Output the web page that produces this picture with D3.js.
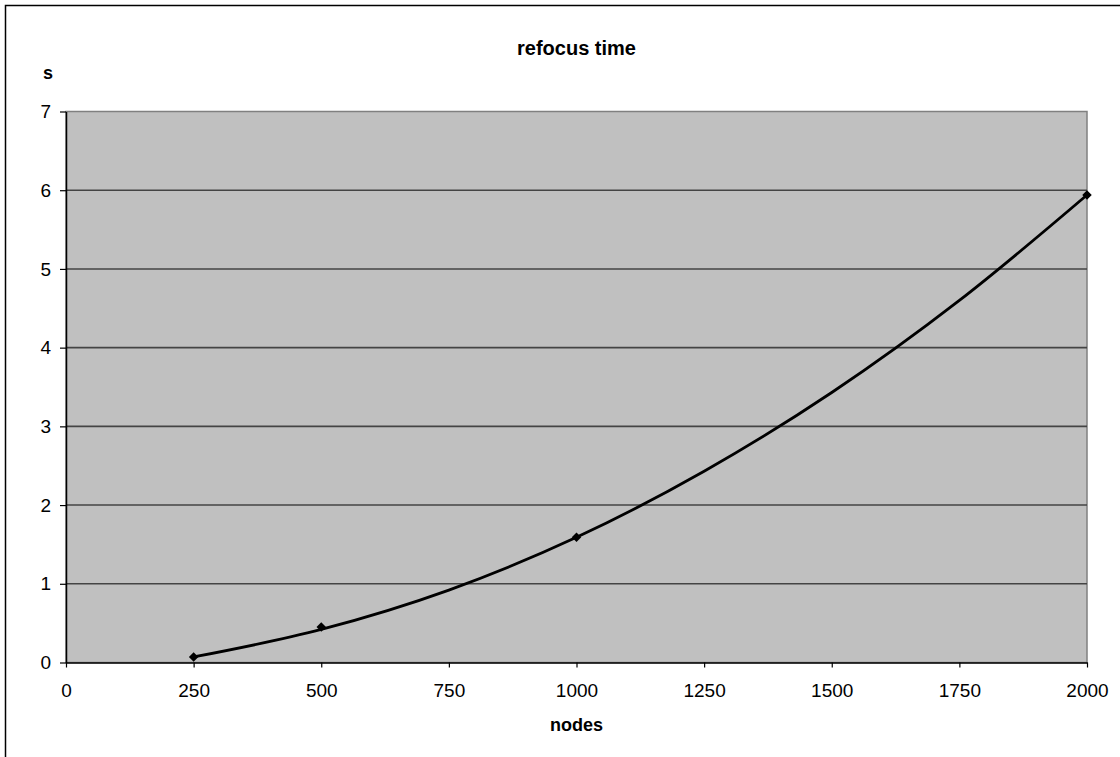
<!DOCTYPE html>
<html><head><meta charset="utf-8">
<script src="https://cdn.jsdelivr.net/npm/d3@7"></script>
<style>body{margin:0;background:#fff}svg{display:block}text{font-family:"Liberation Sans",Arial,sans-serif}</style>
</head><body><svg id="c" width="1120" height="757"></svg>
<script>
// measured data points (markers)
const nodes = [250, 500, 1000, 2000];
const seconds = [0.07, 0.45, 1.59, 5.94];
// trend line, values
const trendNodes = [250, 500, 750, 1000, 1250, 1500, 1750, 2000];
const trendSeconds = [0.07, 0.42, 0.92, 1.59, 2.43, 3.43, 4.60, 5.94];
const xTicks = [0, 250, 500, 750, 1000, 1250, 1500, 1750, 2000];
const yTicks = [0, 1, 2, 3, 4, 5, 6, 7];
const title = "refocus time", xTitle = "nodes", yTitle = "s";

const svg = d3.select("#c");
const L = 66, R = 1087, T = 111.5, B = 662.5;
const x = d3.scaleLinear().domain([0, 2000]).range([L, R]);
const y = d3.scaleLinear().domain([0, 7]).range([B, T]);

svg.append("rect").attr("x",5.5).attr("y",5.5).attr("width",1300).attr("height",1000)
  .attr("fill","#fff").attr("stroke","#000").attr("stroke-width",1.5);

svg.append("rect").attr("x",L).attr("y",T).attr("width",R-L).attr("height",B-T)
  .attr("fill","#c0c0c0").attr("stroke","#808080").attr("stroke-width",1.5);

svg.append("g").selectAll("line").data(yTicks.filter(d=>d>0&&d<7)).join("line")
  .attr("x1",L).attr("x2",R).attr("y1",d=>y(d)).attr("y2",d=>y(d))
  .attr("stroke","#444").attr("stroke-width",1.6);

const fmt = d3.format("d");
const xa = svg.append("g").attr("transform",`translate(0,${B})`)
  .call(d3.axisBottom(x).tickValues(xTicks).tickFormat(fmt).tickSize(5).tickPadding(16).tickSizeOuter(0));
const ya = svg.append("g").attr("transform",`translate(${L},0)`)
  .call(d3.axisLeft(y).tickValues(yTicks).tickFormat(fmt).tickSize(6).tickPadding(9).tickSizeOuter(0));
[xa, ya].forEach(a => {
  a.select(".domain").attr("stroke","#000").attr("stroke-width",1.5);
  a.selectAll(".tick line").attr("stroke","#000").attr("stroke-width",1.2);
  a.selectAll(".tick text").attr("font-size",19).attr("fill","#000").attr("font-family","Liberation Sans, Arial, sans-serif");
});

const trend = trendNodes.map((n,i)=>[n, trendSeconds[i]]);
svg.append("path").datum(trend)
  .attr("d", d3.line().x(d=>x(d[0])).y(d=>y(d[1])).curve(d3.curveMonotoneX))
  .attr("fill","none").attr("stroke","#000").attr("stroke-width",2.8);

const pts = nodes.map((n,i)=>[n, seconds[i]]);
svg.append("g").selectAll("path").data(pts).join("path")
  .attr("transform", d=>`translate(${x(d[0])},${y(d[1])})`)
  .attr("d", d3.symbol(d3.symbolDiamond2, 58)).attr("fill","#000");

svg.append("text").attr("x",(L+R)/2).attr("y",55).attr("text-anchor","middle")
  .attr("font-weight","bold").attr("font-size",20).text(title);
svg.append("text").attr("x",(L+R)/2).attr("y",731).attr("text-anchor","middle")
  .attr("font-weight","bold").attr("font-size",18).text(xTitle);
svg.append("text").attr("x",48).attr("y",79).attr("text-anchor","middle")
  .attr("font-weight","bold").attr("font-size",18).text(yTitle);
</script></body></html>
